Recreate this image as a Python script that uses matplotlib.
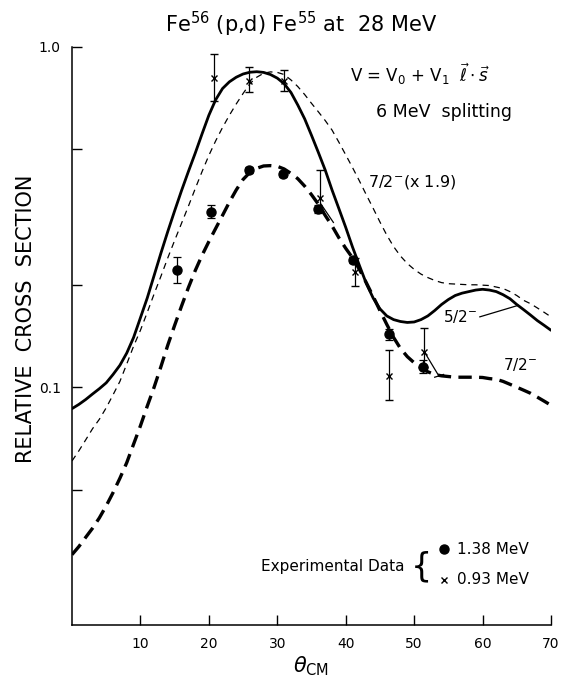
import matplotlib
matplotlib.use("Agg")
import matplotlib.pyplot as plt
from matplotlib.ticker import NullLocator, FixedLocator, FixedFormatter

# ---- data ----
# theory curves (read every degree)
theta_grid = list(range(0, 71))
cs_solid = [0.0865, 0.089, 0.092, 0.0955, 0.099, 0.103, 0.109, 0.116, 0.126, 0.140,
            0.160, 0.183, 0.213, 0.248, 0.287, 0.330, 0.378, 0.430, 0.487, 0.555,
            0.630, 0.700, 0.755, 0.790, 0.815, 0.833, 0.843, 0.846, 0.842, 0.830,
            0.810, 0.780, 0.735, 0.675, 0.615, 0.550, 0.490, 0.435, 0.380, 0.335,
            0.295, 0.258, 0.228, 0.202, 0.183, 0.170, 0.162, 0.158, 0.156, 0.155,
            0.1555, 0.158, 0.162, 0.168, 0.175, 0.181, 0.186, 0.189, 0.191, 0.193,
            0.194, 0.193, 0.191, 0.187, 0.182, 0.175, 0.169, 0.163, 0.157, 0.152, 0.147]
cs_thin = [0.0607, 0.065, 0.070, 0.0755, 0.0805, 0.087, 0.095, 0.104, 0.117, 0.132,
           0.147, 0.166, 0.188, 0.212, 0.240, 0.270, 0.303, 0.340, 0.383, 0.430,
           0.480, 0.530, 0.580, 0.630, 0.680, 0.730, 0.780, 0.815, 0.837, 0.845,
           0.842, 0.830, 0.800, 0.765, 0.725, 0.683, 0.645, 0.608, 0.570, 0.525,
           0.482, 0.442, 0.404, 0.368, 0.336, 0.306, 0.280, 0.259, 0.243, 0.231,
           0.222, 0.215, 0.210, 0.206, 0.203, 0.2015, 0.201, 0.2005, 0.200, 0.200,
           0.1995, 0.199, 0.197, 0.195, 0.191, 0.186, 0.180, 0.176, 0.171, 0.166, 0.161]
cs_dash = [0.0322, 0.034, 0.0362, 0.0385, 0.0413, 0.0448, 0.049, 0.054, 0.060, 0.068,
           0.077, 0.088, 0.100, 0.115, 0.133, 0.152, 0.173, 0.196, 0.220, 0.244,
           0.268, 0.293, 0.320, 0.350, 0.380, 0.408, 0.428, 0.440, 0.447, 0.448,
           0.446, 0.438, 0.425, 0.410, 0.390, 0.368, 0.345, 0.320, 0.298, 0.275,
           0.256, 0.240, 0.222, 0.203, 0.185, 0.168, 0.153, 0.140, 0.130, 0.123,
           0.118, 0.114, 0.111, 0.109, 0.108, 0.1075, 0.107, 0.107, 0.107, 0.107,
           0.1068, 0.106, 0.1055, 0.104, 0.102, 0.100, 0.098, 0.096, 0.0935, 0.091, 0.0885]

# experimental data, 1.38 MeV (dots)
th_dot = [15.4, 20.3, 25.9, 30.9, 36.0, 41.1, 46.3, 51.3]
cs_dot = [0.221, 0.328, 0.434, 0.424, 0.334, 0.237, 0.143, 0.115]
lo_dot = [0.203, 0.314, 0.425, 0.415, 0.325, 0.232, 0.138, 0.110]
hi_dot = [0.241, 0.344, 0.444, 0.433, 0.343, 0.242, 0.148, 0.120]

# experimental data, 0.93 MeV (crosses)
th_x = [20.8, 25.9, 31.0, 36.2, 41.4, 46.3, 51.4]
cs_x = [0.812, 0.797, 0.797, 0.360, 0.218, 0.108, 0.127]
lo_x = [0.695, 0.739, 0.744, 0.330, 0.198, 0.0918, 0.1146]
hi_x = [0.951, 0.873, 0.857, 0.435, 0.240, 0.129, 0.1488]

x_ticks = [10, 20, 30, 40, 50, 60, 70]
y_ticks = [0.05, 0.1, 0.2, 0.5, 1.0]
y_ticklabels = ["", "0.1", "", "", "1.0"]

plt.rcParams['font.family'] = ['DejaVu Sans']
plt.rcParams['mathtext.fontset'] = 'dejavusans'

fig = plt.figure(figsize=(5.62, 6.77), dpi=100)
ax = fig.add_axes([72/562, 1-625/677, (551-72)/562, (625-47)/677])

ax.plot(theta_grid, cs_solid, color='black', lw=2.0, solid_capstyle='round')
ax.plot(theta_grid, cs_thin, color='black', lw=0.9, dashes=(5, 4))
ax.plot(theta_grid, cs_dash, color='black', lw=2.4, dashes=(4, 2.2))

err_dot = [[c - l for c, l in zip(cs_dot, lo_dot)], [h - c for c, h in zip(cs_dot, hi_dot)]]
ax.errorbar(th_dot, cs_dot, yerr=err_dot, fmt='o', color='black', ms=6.5,
            elinewidth=0.9, capsize=3, capthick=0.9)
err_x = [[c - l for c, l in zip(cs_x, lo_x)], [h - c for c, h in zip(cs_x, hi_x)]]
ax.errorbar(th_x, cs_x, yerr=err_x, fmt='x', color='black', ms=4.5, mew=1.0,
            elinewidth=0.9, capsize=3, capthick=0.9)

# leader marks near data points
ax.plot([36.4, 38.2], [0.345, 0.305], color='black', lw=0.9)
ax.plot([51.6, 53.6], [0.126, 0.108], color='black', lw=0.9)
ax.plot([53.0, 54.3], [0.107, 0.109], color='black', lw=0.9)

ax.set_yscale('log')
ax.set_xlim(0, 70)
ax.set_ylim(0.02, 1.0)
ax.xaxis.set_major_locator(FixedLocator(x_ticks))
ax.xaxis.set_minor_locator(NullLocator())
ax.yaxis.set_major_locator(FixedLocator(y_ticks))
ax.yaxis.set_major_formatter(FixedFormatter(y_ticklabels))
ax.yaxis.set_minor_locator(NullLocator())
ax.tick_params(direction='in', length=7, width=1, labelsize=10, pad=8)
ax.tick_params(axis='x', pad=9)
for s in ['top', 'right']:
    ax.spines[s].set_visible(False)
ax.spines['left'].set_linewidth(1.1)
ax.spines['bottom'].set_linewidth(1.1)

ax.set_ylabel('RELATIVE  CROSS  SECTION', fontsize=15)
ax.yaxis.set_label_coords(-0.075, 0.53)
ax.set_xlabel(r'$\theta_{\mathregular{CM}}$', fontsize=15, labelpad=2)
fig.text(0.536, 0.964, r'Fe$^{56}$ (p,d) Fe$^{55}$ at  28 MeV', ha='center', va='center',
         fontsize=15)

ax.text(40.6, 0.83, r'V = V$_0$ + V$_1$  $\vec{\ell}\cdot\vec{s}$', fontsize=12, va='center')
ax.text(44.4, 0.645, '6 MeV  splitting', fontsize=12.5, va='center')
ax.text(43.3, 0.40, r'7/2$^{-}$(x 1.9)', fontsize=11.5, va='center')
ax.text(56.7, 0.161, r'5/2$^{-}$', fontsize=11, va='center', ha='center')
ax.plot([59.6, 65.2], [0.161, 0.174], color='black', lw=0.9)
ax.text(65.5, 0.117, r'7/2$^{-}$', fontsize=11, va='center', ha='center')

ax.text(27.6, 0.0297, 'Experimental Data', fontsize=11, va='center')
ax.text(51.0, 0.0297, '{', fontsize=24, va='center', ha='center')
ax.plot([54.3], [0.0334], 'o', color='black', ms=6.5)
ax.text(56.2, 0.0334, '1.38 MeV', fontsize=11, va='center')
ax.plot([54.3], [0.0272], 'x', color='black', ms=4.5, mew=1.0)
ax.text(56.2, 0.0272, '0.93 MeV', fontsize=11, va='center')

fig.savefig('out.png', dpi=100)
